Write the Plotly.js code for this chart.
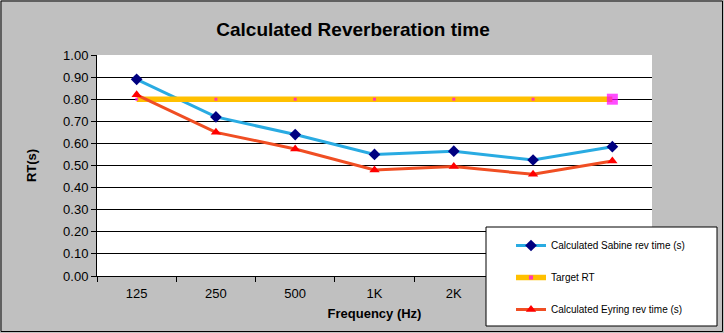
<!DOCTYPE html>
<html>
<head>
<meta charset="utf-8">
<script src="https://cdn.plot.ly/plotly-3.0.1.min.js"></script>
<style>html,body{margin:0;padding:0;background:#c0c0c0;}#chart{width:724px;height:333px;}</style>
</head>
<body>
<div id="chart"></div>
<script>
var categories = ["125", "250", "500", "1K", "2K", "4K", "8K"];
var sabine = [0.89, 0.72, 0.64, 0.55, 0.565, 0.525, 0.585];
var target = [0.80, 0.80, 0.80, 0.80, 0.80, 0.80, 0.80];
var eyring = [0.82, 0.65, 0.575, 0.48, 0.495, 0.46, 0.52];
var seriesNames = ["Calculated Sabine rev time (s)", "Target RT", "Calculated Eyring rev time (s)"];

var W = 724, H = 333, L = 97, R = 652, T = 55, B = 276;
function px(x){ return (x - L) / (R - L); }
function py(y){ return (B - y) / (B - T); }

var traces = [
  {x: categories, y: sabine, name: seriesNames[0], type: "scatter", mode: "lines+markers",
   line: {color: "#29abe2", width: 3}, marker: {symbol: "diamond", size: 9, color: "#000080"},
   legendgroup: "a"},
  {x: categories, y: target, name: seriesNames[1], type: "scatter", mode: "lines+markers",
   line: {color: "#ffc000", width: 5.5},
   marker: {symbol: "square", size: [3,3,3,3,3,3,11], color: "#ff00ff", line: {width: 0}},
   legendgroup: "b"},
  {x: categories, y: eyring, name: seriesNames[2], type: "scatter", mode: "lines+markers",
   line: {color: "#f04e23", width: 3}, marker: {symbol: "triangle-up", size: 9, color: "#ff0000"},
   legendgroup: "c"}
];

var layout = {
  width: W, height: H,
  paper_bgcolor: "#c0c0c0", plot_bgcolor: "#ffffff",
  margin: {l: L, r: W - R, t: T, b: H - B, autoexpand: false},
  font: {family: "Arial, 'Liberation Sans', sans-serif", color: "#000", size: 12},
  title: {text: "<b>Calculated Reverberation time</b>", font: {size: 19, color: "#000"},
          x: px(353), xref: "paper", xanchor: "center", y: 1 - 29/H, yref: "container", yanchor: "middle",
          automargin: false},
  xaxis: {type: "category", tickson: "boundaries", ticks: "outside", ticklen: 5, tickcolor: "#000",
          showline: true, linecolor: "#000", linewidth: 1, showgrid: false, zeroline: false,
          tickfont: {size: 13}, range: [-0.5, 6.5], automargin: false, ticklabelstandoff: 5,
          title: {text: "<b>Frequency (Hz)</b>", font: {size: 13}, standoff: 9}},
  yaxis: {range: [0, 1], dtick: 0.1, tickformat: ".2f", ticks: "outside", ticklen: 5, tickcolor: "#000",
          showline: true, linecolor: "#000", linewidth: 1, showgrid: true, gridcolor: "#000", gridwidth: 1,
          zeroline: false, tickfont: {size: 13}, automargin: false,
          title: {text: "<b>RT(s)</b>", font: {size: 13}, standoff: 23}},
  showlegend: true,
  legend: {x: px(511), y: py(231), xanchor: "left", yanchor: "top", bgcolor: "rgba(0,0,0,0)",
           borderwidth: 0, font: {size: 10}, traceorder: "grouped", tracegroupgap: 13},
  shapes: [
    {type: "rect", xref: "paper", yref: "paper", x0: px(486), x1: px(717), y0: py(326), y1: py(227),
     fillcolor: "#ffffff", line: {color: "#000", width: 1}, layer: "above"},
    {type: "rect", xref: "paper", yref: "paper", x0: px(1), x1: px(722.5), y0: py(331.5), y1: py(1),
     fillcolor: "rgba(0,0,0,0)", line: {color: "#000", width: 1}, layer: "above"}
  ]
};

Plotly.newPlot("chart", traces, layout, {displayModeBar: false, staticPlot: true});
</script>
</body>
</html>
